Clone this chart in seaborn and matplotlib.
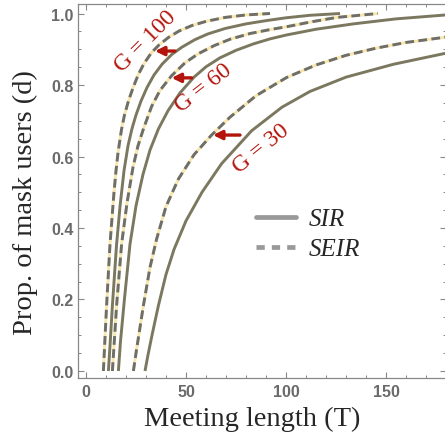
import numpy as np
import pandas as pd
import seaborn as sns
import matplotlib
matplotlib.use("Agg")
import matplotlib.pyplot as plt
from matplotlib.lines import Line2D
from matplotlib.ticker import MultipleLocator

# ---- data ----
T_seir_100 = [8.7, 9.3, 10.3, 12.0, 14.0, 15.0, 16.0, 17.0, 17.8, 19.2, 21.2, 23.5, 26.2, 29.0, 32.8, 36.5, 41.2, 46.5, 52.8, 60.0, 69.5, 80.0, 92.0]
d_seir_100 = [0.0, 0.07, 0.183, 0.355, 0.50, 0.56, 0.61, 0.648, 0.677, 0.715, 0.755, 0.792, 0.830, 0.860, 0.891, 0.912, 0.933, 0.951, 0.966, 0.978, 0.989, 0.996, 1.0]

T_sir_100 = [11.2, 12.0, 13.2, 15.3, 17.0, 19.0, 21.0, 23.0, 25.0, 27.5, 30.5, 34.0, 38.0, 43.0, 48.0, 54.5, 61.0, 69.5, 80.0, 90.0, 100.0, 112.0, 127.0]
d_sir_100 = [0.0, 0.07, 0.183, 0.355, 0.46, 0.56, 0.63, 0.678, 0.716, 0.755, 0.793, 0.828, 0.858, 0.886, 0.906, 0.927, 0.943, 0.958, 0.971, 0.980, 0.988, 0.995, 1.0]

T_seir_60 = [13.2, 14.0, 15.3, 17.8, 20.5, 23.5, 26.0, 28.7, 32.8, 37.0, 42.8, 49.5, 56.0, 64.0, 72.0, 82.0, 92.0, 100.3, 112.0, 125.3, 146.0]
d_seir_60 = [0.0, 0.07, 0.183, 0.355, 0.47, 0.57, 0.63, 0.677, 0.74, 0.785, 0.826, 0.862, 0.887, 0.91, 0.928, 0.944, 0.955, 0.963, 0.976, 0.989, 1.0]

T_sir_60 = [16.2, 17.2, 19.2, 22.0, 25.0, 28.5, 32.0, 36.2, 41.0, 47.0, 54.0, 60.0, 67.0, 75.0, 83.7, 92.0, 100.3, 115.0, 133.7, 155.0, 180.0]
d_sir_60 = [0.0, 0.08, 0.20, 0.355, 0.462, 0.55, 0.618, 0.677, 0.728, 0.778, 0.822, 0.851, 0.876, 0.897, 0.915, 0.929, 0.94, 0.956, 0.971, 0.985, 0.996]

T_seir_30 = [23.7, 25.0, 28.7, 32.0, 35.3, 40.0, 46.2, 54.0, 62.8, 72.0, 85.0, 100.3, 115.0, 130.0, 145.0, 160.0, 180.0]
d_seir_30 = [0.0, 0.05, 0.183, 0.29, 0.369, 0.46, 0.537, 0.605, 0.66, 0.71, 0.77, 0.821, 0.856, 0.883, 0.903, 0.919, 0.934]

T_sir_30 = [29.5, 31.0, 33.0, 36.2, 40.0, 44.0, 50.0, 58.0, 67.8, 82.8, 98.0, 112.0, 130.0, 153.7, 180.0]
d_sir_30 = [0.0, 0.045, 0.10, 0.183, 0.27, 0.34, 0.42, 0.50, 0.58, 0.672, 0.738, 0.782, 0.822, 0.858, 0.889]

g_labels = ["G = 100", "G = 60", "G = 30"]
legend_labels = ["SIR", "SEIR"]
x_ticks = [0, 50, 100, 150]
y_ticks = [0.0, 0.2, 0.4, 0.6, 0.8, 1.0]

# ---- style ----
sns.set_style("ticks")
plt.rcParams['font.family'] = ['Liberation Sans', 'DejaVu Sans']

W, H = 445, 435
fig = plt.figure(figsize=(W / 100, H / 100), dpi=100)
ax = fig.add_axes([78 / W, 56 / H, 368 / W, 374 / H])

SOLID = '#7b785f'
DASH = '#6e6e6a'
YEL = '#f8e6ad'

sir_sets = [(T_sir_100, d_sir_100), (T_sir_60, d_sir_60), (T_sir_30, d_sir_30)]
seir_sets = [(T_seir_100, d_seir_100), (T_seir_60, d_seir_60), (T_seir_30, d_seir_30)]

for T, d in sir_sets:
    df = pd.DataFrame({"T": T, "d": d})
    sns.lineplot(data=df, x="T", y="d", ax=ax, color=SOLID, lw=2.1, sort=False,
                 estimator=None, solid_capstyle='butt', solid_joinstyle='round')

for T, d in seir_sets:
    df = pd.DataFrame({"T": T, "d": d})
    sns.lineplot(data=df, x="T", y="d", ax=ax, color=YEL, lw=2.1, sort=False,
                 estimator=None, solid_capstyle='butt', solid_joinstyle='round')
    sns.lineplot(data=df, x="T", y="d", ax=ax, color=DASH, lw=2.1, sort=False,
                 estimator=None, linestyle=(0, (3.0, 1.5)), dash_capstyle='butt')

# annotations
RED = '#b3150c'
ann = [((30.0, 0.923), 45), ((58.5, 0.794), 38), ((87.5, 0.624), 39)]
arrows = [((34.5, 0.895), (44.5, 0.895)), ((42.8, 0.82), (52.8, 0.82)), ((63.5, 0.66), (77.0, 0.66))]
for lab, (pos, rot) in zip(g_labels, ann):
    ax.text(pos[0], pos[1], lab, rotation=rot, color=RED, fontsize=17,
            family=['Liberation Serif', 'DejaVu Serif'], ha='center', va='center',
            rotation_mode='anchor')
for tip, tail in arrows:
    ax.annotate('', xy=tip, xytext=tail,
                arrowprops=dict(arrowstyle='-|>', color=RED, lw=2.4,
                                mutation_scale=13, shrinkA=0, shrinkB=0))

# legend
handles = [Line2D([], [], color='#999999', lw=3.4),
           Line2D([], [], color='#999999', lw=3.4, linestyle=(0, (1.75, 1.5)))]
leg = ax.legend(handles, legend_labels, loc='center left', bbox_to_anchor=(0.484, 0.385),
                frameon=False, borderpad=0, borderaxespad=0, handlelength=1.6,
                handletextpad=0.5, labelspacing=0.3,
                prop={'family': 'Liberation Serif', 'style': 'italic', 'size': 18})

# axes
ax.set_xlim(-4, 180)
ax.set_ylim(-0.0196, 1.0266)
ax.xaxis.set_minor_locator(MultipleLocator(10))
ax.yaxis.set_minor_locator(MultipleLocator(0.05))
ax.tick_params(which='both', direction='in', top=True, right=True, colors='#888888')
ax.tick_params(which='major', length=4.5, width=0.8)
ax.tick_params(which='minor', length=2.5, width=0.7)
ax.tick_params(axis='x', pad=4.5)
ax.tick_params(axis='y', pad=3)
ax.set_xticks(x_ticks)
ax.set_yticks(y_ticks)
tick_font = dict(fontweight='bold', fontsize=11.5, color='#6a6a6a',
                 family=['Liberation Sans', 'DejaVu Sans'])
ax.set_xticklabels([str(v) for v in x_ticks], **tick_font)
ax.set_yticklabels([f"{v:.1f}" for v in y_ticks], **tick_font)
for s in ax.spines.values():
    s.set_color('#888888')
    s.set_linewidth(0.9)
ax.set_xlabel('')
ax.set_ylabel('')
fig.text(252 / W, 1 - 419.5 / H, 'Meeting length (T)', ha='center', va='center',
         fontsize=20.5, family=['Liberation Serif', 'DejaVu Serif'])
fig.text(25.5 / W, 1 - 202.5 / H, 'Prop. of mask users (d)', ha='center', va='center',
         rotation=90, fontsize=20.5, family=['Liberation Serif', 'DejaVu Serif'])

fig.savefig('out.png', dpi=100)
